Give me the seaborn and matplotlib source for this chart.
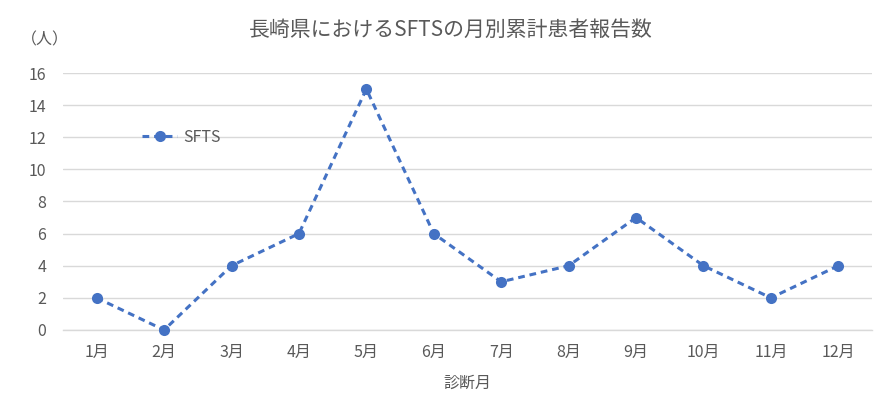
import matplotlib
matplotlib.use("Agg")
import matplotlib.pyplot as plt
import seaborn as sns
import pandas as pd

# data
months = ["1月", "2月", "3月", "4月", "5月", "6月", "7月", "8月", "9月", "10月", "11月", "12月"]
cases = [2, 0, 4, 6, 15, 6, 3, 4, 7, 4, 2, 4]
series_name = "SFTS"

sns.set_theme(style="white")
plt.rcParams["font.family"] = ["Noto Sans CJK JP", "DejaVu Sans"]

text_color = "#595959"
line_color = "#4472C4"
dash = (0, (2.2, 1.6))

df = pd.DataFrame({"month": months, "cases": cases, "series": series_name})
df["pos"] = range(len(months))

fig = plt.figure(figsize=(8.93, 3.99), dpi=100)
ax = fig.add_axes([0.0705, 0.173, 0.906, 0.644])

sns.lineplot(data=df, x="pos", y="cases", hue="series", palette=[line_color],
             marker="o", markersize=8, markeredgewidth=0, linewidth=2.2,
             dashes=False, ax=ax)
ax.lines[0].set_linestyle(dash)
ax.lines[0].set_clip_on(False)
ax.lines[0].set_zorder(5)

ax.set_xlim(-0.5, len(months) - 0.5)
ax.set_ylim(0, 16)
ax.set_xticks(range(len(months)))
ax.set_xticklabels(months)
ax.set_yticks(range(0, 17, 2))
ax.tick_params(axis="both", length=0, colors=text_color, labelsize=11.5)
ax.tick_params(axis="x", pad=10)
ax.tick_params(axis="y", pad=12)

ax.yaxis.grid(True, color="#d9d9d9", linewidth=1)
for side in ["top", "right", "left"]:
    ax.spines[side].set_visible(False)
ax.spines["bottom"].set_color("#d9d9d9")
ax.spines["bottom"].set_linewidth(1)
ax.spines["bottom"].set_zorder(1)

ax.set_xlabel("診断月", color=text_color, fontsize=11.5, labelpad=10)
ax.set_ylabel("")
fig.text(0.05, 0.9, "（人）", color=text_color, fontsize=11.5, ha="center", va="center")
fig.text(0.505, 0.925, "長崎県におけるSFTSの月別累計患者報告数", color=text_color,
         fontsize=15, ha="center", va="center")

leg = ax.legend(loc="upper left", bbox_to_anchor=(0.08, 0.84), frameon=False,
                fontsize=11.5, handlelength=2.2, handletextpad=0.4)
for t in leg.get_texts():
    t.set_color(text_color)
for h in leg.get_lines():
    h.set_linestyle(dash)

fig.savefig("out.png", dpi=100)
